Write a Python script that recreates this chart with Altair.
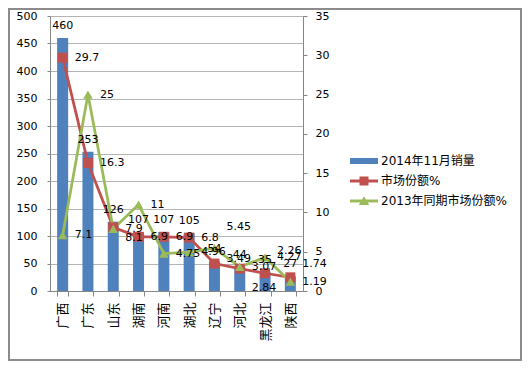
import altair as alt
import pandas as pd

provinces = ["广西", "广东", "山东", "湖南", "河南", "湖北", "辽宁", "河北", "黑龙江", "陕西"]
sales = [460, 253, 126, 107, 107, 105, 54, 44, 35, 27]
share_2014 = [29.7, 16.3, 8.1, 6.9, 6.9, 6.8, 3.49, 2.84, 2.26, 1.74]
share_2013 = [7.1, 25, 7.9, 11, 4.75, 4.96, 5.45, 3.07, 4.27, 1.19]
series_names = ["2014年11月销量", "市场份额%", "2013年同期市场份额%"]
series_colors = ["#4F81BD", "#C0504D", "#9BBB59"]
left_ticks = list(range(0, 501, 50))
right_ticks = list(range(0, 36, 5))

bar_df = pd.DataFrame({"province": provinces, "value": sales, "series": series_names[0]})
line_df = pd.DataFrame({
    "province": provinces * 2,
    "value": share_2014 + share_2013,
    "series": [series_names[1]] * len(provinces) + [series_names[2]] * len(provinces),
})
legend_df = pd.DataFrame({"series": series_names})

FONT = "DejaVu Sans, Noto Sans CJK SC, sans-serif"
W, H = 253, 275
PAD = {"left": 42, "top": 8, "right": 219, "bottom": 70}
AXIS_GRAY = "#868686"

# hand-moved data labels in the original (vertical nudge in px)
label_nudges = [
    (series_names[1], "山东", 11),
    (series_names[2], "辽宁", -21),
    (series_names[1], "辽宁", -5),
    (series_names[1], "河北", 19),
    (series_names[1], "黑龙江", -22),
    (series_names[1], "陕西", -13),
]

legend_paths = [
    "M-1,-0.214H1V0.214H-1Z",
    "M-1,-0.1H1V0.1H-1Z M-0.32,-0.32H0.32V0.32H-0.32Z",
    "M-1,-0.1H1V0.1H-1Z M0,-0.34L0.37,0.28H-0.37Z",
]

legend = alt.Legend(
    orient="none", legendX=300, legendY=131, title=None,
    symbolSize=784, labelFontSize=12, labelOffset=3, rowPadding=-3, padding=0,
    labelFont=FONT, labelColor="#000000", symbolStrokeWidth=0, symbolOpacity=1,
)

color = alt.Color("series:N", scale=alt.Scale(domain=series_names, range=series_colors), legend=legend)
shape = alt.Shape("series:N", scale=alt.Scale(domain=series_names, range=legend_paths), legend=legend)

x = alt.X(
    "province:N", sort=provinces, title=None,
    scale=alt.Scale(paddingInner=0.565, paddingOuter=0.2825),
    axis=alt.Axis(labelAngle=270, tickBand="extent", labelFontSize=13, labelPadding=6,
                  tickSize=5, tickColor=AXIS_GRAY, domainColor=AXIS_GRAY, labelColor="#000000",
                  labelFont=FONT),
)

left_scale = alt.Scale(domain=[0, 500], nice=False)
y_left = alt.Y(
    "value:Q", title=None, scale=left_scale,
    axis=alt.Axis(orient="left", values=left_ticks, grid=True, gridColor="#b4b4b4",
                  tickSize=3, labelPadding=10, tickColor=AXIS_GRAY, domainColor=AXIS_GRAY,
                  labelFontSize=11, labelColor="#000000", labelFont=FONT),
)
y_left_noaxis = alt.Y("value:Q", title=None, scale=left_scale, axis=None)
y_right = alt.Y(
    "value:Q", title=None, scale=alt.Scale(domain=[0, 35], nice=False),
    axis=alt.Axis(orient="right", values=right_ticks, grid=False,
                  tickSize=4, labelPadding=8, tickColor=AXIS_GRAY, domainColor=AXIS_GRAY,
                  labelFontSize=11, labelColor="#000000", labelFont=FONT),
)

bars = alt.Chart(bar_df).mark_bar(size=11).encode(x=x, y=y_left, color=color)
bar_text = alt.Chart(bar_df).mark_text(
    dy=-9, baseline="alphabetic", fontSize=11, font=FONT, color="#000000"
).encode(x=x, y=y_left_noaxis, text="value:Q")

def cond(s, p):
    return f"(datum.series === '{s}' && datum.province === '{p}')"

nudged_expr = " || ".join(cond(s, p) for s, p, _ in label_nudges)

lines = alt.Chart(line_df).mark_line(strokeWidth=2.75).encode(x=x, y=y_right, color=color)
red_pts = alt.Chart(line_df).transform_filter(
    alt.datum.series == series_names[1]
).mark_point(shape="square", filled=True, size=100, opacity=1).encode(x=x, y=y_right, color=color)
green_pts = alt.Chart(line_df).transform_filter(
    alt.datum.series == series_names[2]
).mark_point(shape="triangle-up", filled=True, size=90, opacity=1).encode(x=x, y=y_right, color=color)
text_props = dict(align="left", baseline="middle", dx=12, fontSize=11, font=FONT, color="#000000")
line_text = alt.Chart(line_df).transform_filter(f"!({nudged_expr})").mark_text(
    **text_props
).encode(x=x, y=y_right, text="value:Q")
nudged_texts = [
    alt.Chart(line_df).transform_filter(cond(s, p)).mark_text(dy=d, **text_props).encode(
        x=x, y=y_right, text="value:Q")
    for s, p, d in label_nudges
]
# legend carrier: draws nothing (filtered out), only provides the legend symbols
legend_layer = alt.Chart(legend_df).transform_filter("false").mark_point(
    filled=True, opacity=1
).encode(color=color, shape=shape)
right = alt.layer(lines, red_pts, green_pts, line_text, *nudged_texts, legend_layer)

frame = alt.Chart(pd.DataFrame({"k": [0]})).mark_rect(
    fillOpacity=0, stroke="#8c8c8c", strokeWidth=2
).encode(
    x=alt.value(-PAD["left"] + 1), x2=alt.value(W + PAD["right"] - 1),
    y=alt.value(-PAD["top"] + 1), y2=alt.value(H + PAD["bottom"] - 1),
)

chart = alt.layer(bars, right, bar_text, frame).resolve_scale(y="independent").properties(
    width=W, height=H, padding=PAD, autosize=alt.AutoSizeParams(type="none"),
).configure_view(strokeWidth=0).configure(font=FONT)

chart.save("out.html", embed_options={"renderer": "svg", "actions": False})
